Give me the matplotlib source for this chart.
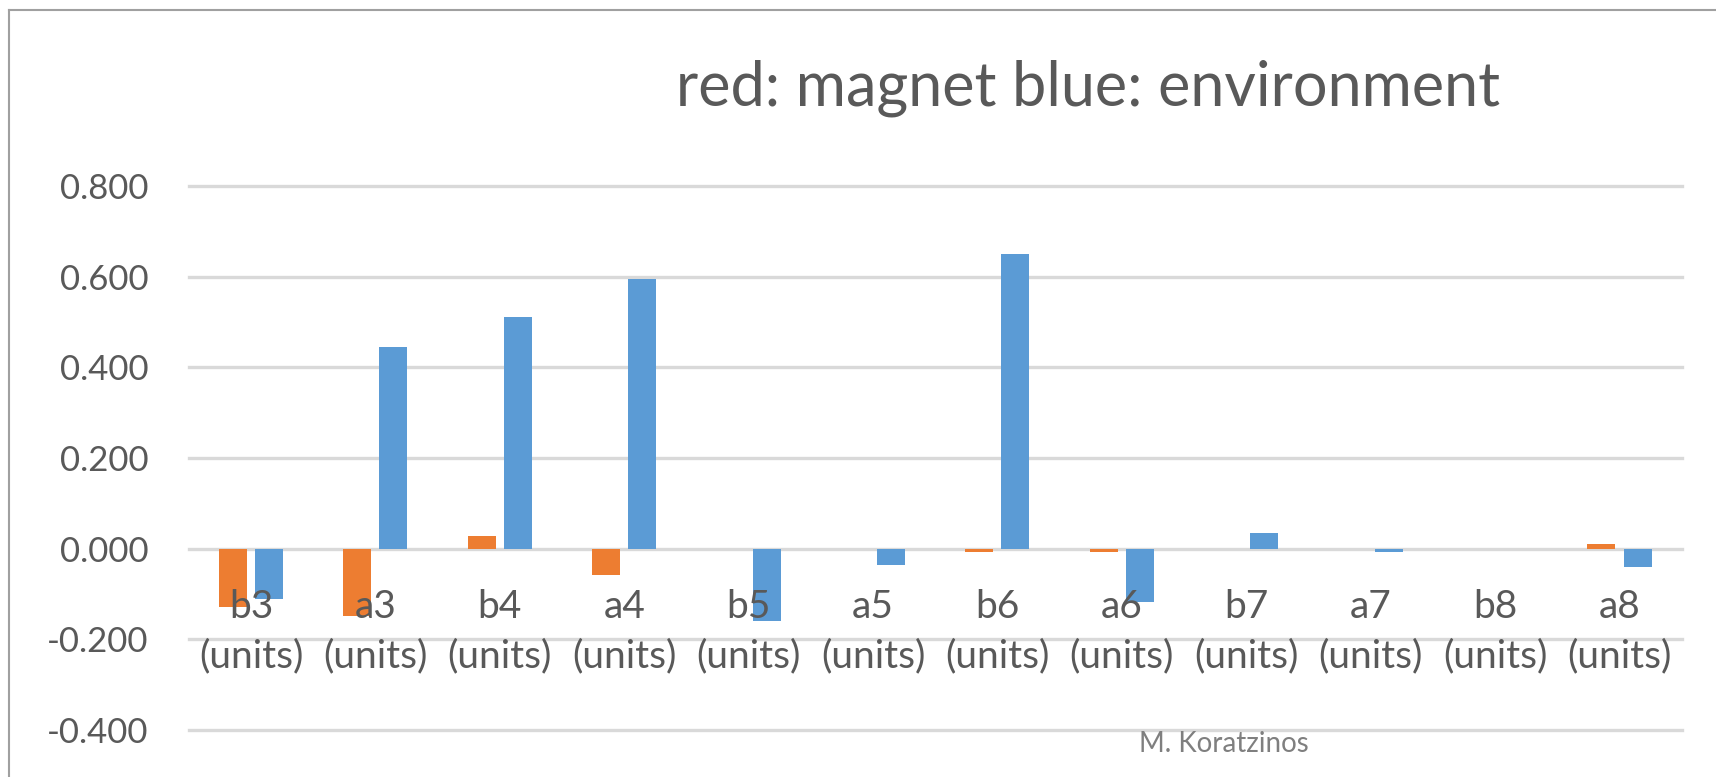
import matplotlib.pyplot as plt
import numpy as np
from matplotlib.lines import Line2D

# Data
categories = ["b3", "a3", "b4", "a4", "b5", "a5", "b6", "a6", "b7", "a7", "b8", "a8"]
unit_label = "(units)"
magnet = [-0.128, -0.149, 0.028, -0.058, 0.0, 0.0, -0.008, -0.008, 0.0, 0.0, 0.0, 0.011]
environment = [-0.110, 0.445, 0.511, 0.595, -0.160, -0.035, 0.651, -0.117, 0.035, -0.008, 0.0, -0.040]
yticks = [-0.4, -0.2, 0.0, 0.2, 0.4, 0.6, 0.8]

plt.rcParams["font.family"] = ["Lato", "DejaVu Sans"]
text_grey = "#595959"

fig = plt.figure(figsize=(17.16, 7.77), dpi=100)
ax = fig.add_axes([0.110, 0.0605, 0.870, 0.700])

x = np.arange(len(categories))
width = 0.225
ax.bar(x - 0.145, magnet, width, color="#ED7D31", zorder=3)
ax.bar(x + 0.145, environment, width, color="#5B9BD5", zorder=3)

ax.set_xlim(-0.5, len(categories) - 0.5)
ax.set_ylim(-0.4, 0.8)
ax.set_yticks(yticks)
ax.set_yticklabels(["%.3f" % v for v in yticks])
ax.set_xticks(x)
ax.set_xticklabels([])

for s in ["top", "right", "left", "bottom"]:
    ax.spines[s].set_visible(False)

ax.tick_params(axis="x", length=0)
ax.tick_params(axis="y", length=0, pad=29, labelsize=25, labelcolor=text_grey)

# category labels hang just under the zero line, on top of the bars
for xi, c in zip(x, categories):
    ax.annotate(c + "\n" + unit_label, xy=(xi, 0), xytext=(0, -29),
                textcoords="offset points", ha="center", va="top",
                fontsize=28, linespacing=1.45, color=text_grey, zorder=4)

ax.yaxis.grid(True, color="#D9D9D9", linewidth=2.4, zorder=0)
ax.set_axisbelow(True)
for gl in ax.get_ygridlines():
    gl.set_clip_on(False)

fig.text(0.634, 0.886, "red: magnet blue: environment", ha="center", va="center",
         fontsize=44, color=text_grey)
fig.text(0.713, 0.042, "M. Koratzinos", ha="center", va="center",
         fontsize=20, color="#7F7F7F")

# chart frame
fig.add_artist(Line2D([9 / 1716, 9 / 1716], [0, 1 - 10 / 777], color="#A0A0A0", linewidth=1.5))
fig.add_artist(Line2D([9 / 1716, 1], [1 - 10 / 777, 1 - 10 / 777], color="#A0A0A0", linewidth=1.5))

fig.savefig("out.png", dpi=100)
